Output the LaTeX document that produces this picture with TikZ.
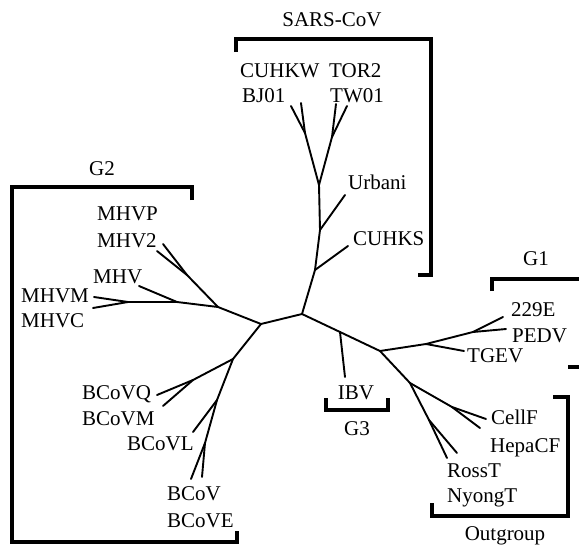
\documentclass[tikz,border=0pt]{standalone}
\usepackage{fontspec}
\setmainfont{Liberation Serif}
\usetikzlibrary{positioning}

\tikzset{
  branch/.style={line width=1.9pt, line cap=round},
  clade/.style={line width=4.2pt},
  taxon/.style={inner sep=0pt, anchor=base west},
  group/.style={inner sep=0pt, anchor=base},
}

\begin{document}
\begin{tikzpicture}[x=1pt,y=-1pt,font=\fontsize{21}{24}\selectfont]
  \useasboundingbox (0,0) rectangle (579,546);
  % inner nodes of the tree
  \foreach \n/\x/\y in
    {R/302/314, L/261/324,
     S0/315/270, S1/320/230, S2/319/185, S3/305/133, S4/332/137,
     M1/218/307, Mp/187/275, M2/177/302, M3/128/302,
     B1/233/359, Bq/193/380, B2/217/400, B3/205/443,
     I1/340/332, J/380/351, G1a/426/344, G1b/473/332,
     O1/410/383, Oc/452/407, Or/429/420}
    \coordinate (\n) at (\x,\y);
  % leaf ends
  \foreach \n/\x/\y in
    {a1/291/106, a2/301/103, a3/336/104, a4/347/106, tU/345/195, tC/348/246,
     m1/163/244, m2/157/251, m3/139/286, m4/94/297, m5/93/308,
     b1/157/395, b2/163/406, b3/193/432, b4/191/479, b5/202/477,
     tI/345/377, g1/503/317, g2/506/329, g3/464/351,
     o1/486/419, o2/480/428, o3/447/458, o4/457/453}
    \coordinate (\n) at (\x,\y);
  % branches
  \foreach \a/\b in
    {R/L, R/S0, S0/S1, S1/S2, S2/S3, S2/S4, S3/a1, S3/a2, S4/a3, S4/a4,
     S1/tU, S0/tC,
     L/M1, M1/Mp, Mp/m1, Mp/m2, M1/M2, M2/m3, M2/M3, M3/m4, M3/m5,
     L/B1, B1/Bq, Bq/b1, Bq/b2, B1/B2, B2/b3, B2/B3, B3/b4, B3/b5,
     R/I1, I1/tI, I1/J, J/G1a, G1a/g3, G1a/G1b, G1b/g1, G1b/g2,
     J/O1, O1/Oc, Oc/o1, Oc/o2, O1/Or, Or/o3, Or/o4}
    \draw[branch] (\a) -- (\b);
  % taxa
  \foreach \n/\x/\y/\t in
    {nCUHKW/240/77/CUHKW, nTOR2/329/77/TOR2, nBJ01/242/102/BJ01,
     nTW01/330/102/TW01, nUrbani/348/189/Urbani, nCUHKS/353/245/CUHKS,
     nMHVP/97/220/MHVP, nMHV2/97/247/MHV2, nMHV/93/283/MHV,
     nMHVM/21/302/MHVM, nMHVC/21/327/MHVC,
     nBCoVQ/82/399/BCoVQ, nBCoVM/82/425/BCoVM, nBCoVL/127/450/BCoVL,
     nBCoV/167/500/BCoV, nBCoVE/167/527/BCoVE,
     n229E/511/316/229E, nPEDV/512/342/PEDV, nTGEV/467/362/TGEV,
     nCellF/491/424/CellF, nHepaCF/490/452/HepaCF,
     nRossT/447/477/RossT, nNyongT/447/502/NyongT}
    \node[taxon] (\n) at (\x,\y) {\t};
  \node[group] (nIBV) at (356,399) {IBV};
  % group brackets
  \draw[clade] (236,52) -- (236,39) -- (431,39) -- (431,275) -- (418,275);
  \node[group] (sars) at (332,27) {SARS-CoV};
  \draw[clade] (192,200) -- (192,187) -- (12,187) -- (12,542) -- (237,542) -- (237,531);
  \node[group] (g2) at (102,175) {G2};
  \draw[clade] (492,291) -- (492,279) -- (590,279) -- (590,367) -- (568,367);
  \node[group] (g1) at (536,265) {G1};
  \draw[clade] (326,398) -- (326,410) -- (388,410) -- (388,398);
  \node[group] (g3) at (357,435) {G3};
  \draw[clade] (553,397) -- (568,397) -- (568,516) -- (432,516) -- (432,503);
  \node[group] (outg) at (505,540) {Outgroup};
\end{tikzpicture}
\end{document}
